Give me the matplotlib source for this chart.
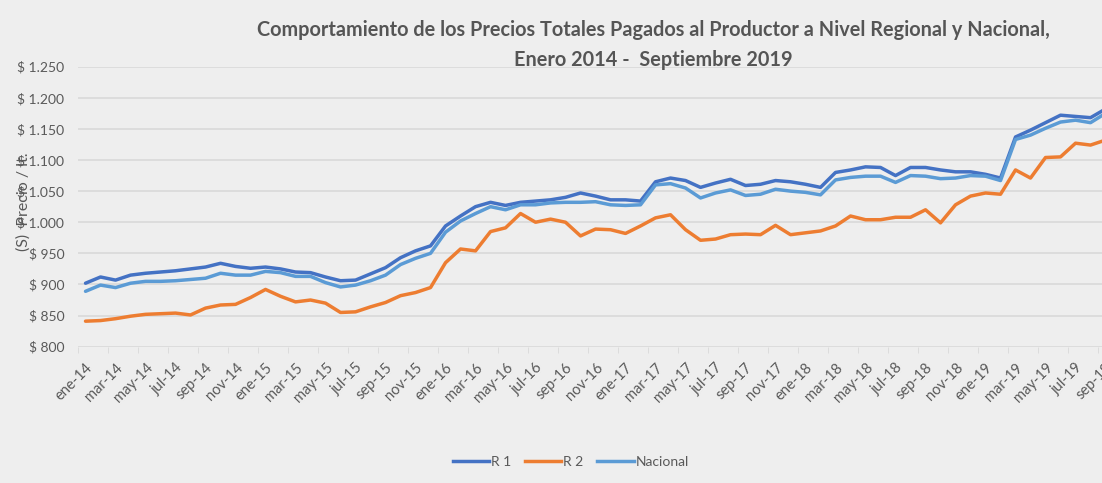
import numpy as np
import matplotlib.pyplot as plt
from matplotlib.lines import Line2D

# Monthly prices, ene-14 .. sep-19 ($ / lt)
meses = ["ene", "feb", "mar", "abr", "may", "jun", "jul", "ago", "sep", "oct", "nov", "dic"]
anios = ["14", "15", "16", "17", "18", "19"]
etiquetas = [m + "-" + a for a in anios for m in meses][:69]

r1 = [902, 912, 907, 915, 918, 920, 922, 925, 928, 934, 929, 926,
      928, 925, 920, 919, 912, 906, 907, 917, 927, 943, 954, 962,
      994, 1010, 1025, 1032, 1027, 1032, 1034, 1036, 1040, 1047, 1042, 1036,
      1036, 1034, 1065, 1071, 1067, 1056, 1063, 1069, 1059, 1061, 1067, 1065,
      1061, 1056, 1080, 1084, 1089, 1088, 1075, 1088, 1088, 1084, 1081, 1081,
      1077, 1071, 1137, 1148, 1160, 1172, 1170, 1168, 1182]

r2 = [841, 842, 845, 849, 852, 853, 854, 851, 862, 867, 868, 879,
      892, 881, 872, 875, 870, 855, 856, 864, 871, 882, 887, 895,
      935, 957, 954, 985, 991, 1014, 1000, 1005, 1000, 978, 989, 988,
      982, 994, 1007, 1012, 988, 971, 973, 980, 981, 980, 995, 980,
      983, 986, 994, 1010, 1004, 1004, 1008, 1008, 1020, 999, 1028, 1042,
      1047, 1045, 1084, 1071, 1104, 1105, 1127, 1124, 1132]

nacional = [889, 899, 895, 902, 905, 905, 906, 908, 910, 918, 915, 915,
            921, 919, 913, 913, 903, 896, 899, 906, 915, 932, 942, 950,
            984, 1002, 1014, 1025, 1020, 1028, 1028, 1031, 1032, 1032, 1033, 1028,
            1027, 1028, 1060, 1062, 1055, 1039, 1047, 1052, 1043, 1045, 1053, 1050,
            1048, 1044, 1068, 1072, 1074, 1074, 1064, 1075, 1074, 1070, 1071, 1075,
            1074, 1067, 1133, 1140, 1151, 1161, 1164, 1160, 1175]

bg = "#EEEEEE"
gris = "#595959"
plt.rcParams['font.family'] = ['Lato', 'DejaVu Sans']

fig = plt.figure(figsize=(11.02, 4.83), dpi=100, facecolor=bg)
ax = fig.add_axes([0.0708, 0.2822, 0.9392, 0.5798], facecolor=bg)

x = np.arange(len(r1))
ax.plot(x, r1, color="#4472C4", lw=2.5, solid_joinstyle="round", solid_capstyle="round", zorder=3)
ax.plot(x, r2, color="#ED7D31", lw=2.5, solid_joinstyle="round", solid_capstyle="round", zorder=3)
ax.plot(x, nacional, color="#5B9BD5", lw=2.5, solid_joinstyle="round", solid_capstyle="round", zorder=3)

ax.set_xlim(-0.5, len(r1) - 0.5)
ax.set_ylim(800, 1250)
yt = np.arange(800, 1251, 50)
ax.set_yticks(yt)
ax.set_yticklabels(["$ " + f"{v:,}".replace(",", ".") for v in yt], color=gris, fontsize=10)
ax.tick_params(axis="y", length=0, pad=10)
ax.grid(axis="y", color="#D9D9D9", lw=1.2)
ax.set_axisbelow(True)

ax.set_xticks(x[::2])
ax.set_xticklabels(etiquetas[::2], rotation=45, ha="right", va="top",
                   rotation_mode="anchor", color=gris, fontsize=10.5)
ax.set_xticks(np.arange(-0.5, len(r1), 2), minor=True)
ax.tick_params(axis="x", which="major", length=0, pad=10)
ax.tick_params(axis="x", which="minor", length=4, color="#D9D9D9")
for s in ax.spines.values():
    s.set_visible(False)

fig.text(0.593, 0.937, "Comportamiento de los Precios Totales Pagados al Productor a Nivel Regional y Nacional,",
         ha="center", va="center", fontsize=14.3, fontweight="bold", color="#555555")
fig.text(0.593, 0.875, "Enero 2014 -  Septiembre 2019",
         ha="center", va="center", fontsize=14.3, fontweight="bold", color="#555555")

fig.text(0.021, 0.582, "(S)  Precio / lt.", rotation=90, ha="center", va="center",
         fontsize=11.5, color=gris)

handles = [Line2D([], [], color="#4472C4", lw=2.5),
           Line2D([], [], color="#ED7D31", lw=2.5),
           Line2D([], [], color="#5B9BD5", lw=2.5)]
fig.legend(handles, ["R 1", "R 2", "Nacional"], loc="center", bbox_to_anchor=(0.518, 0.043),
           ncol=3, frameon=False, fontsize=10, labelcolor=gris, handlelength=2.6,
           handletextpad=0.15, columnspacing=1.0)

fig.savefig("out.png", dpi=100, facecolor=bg)
